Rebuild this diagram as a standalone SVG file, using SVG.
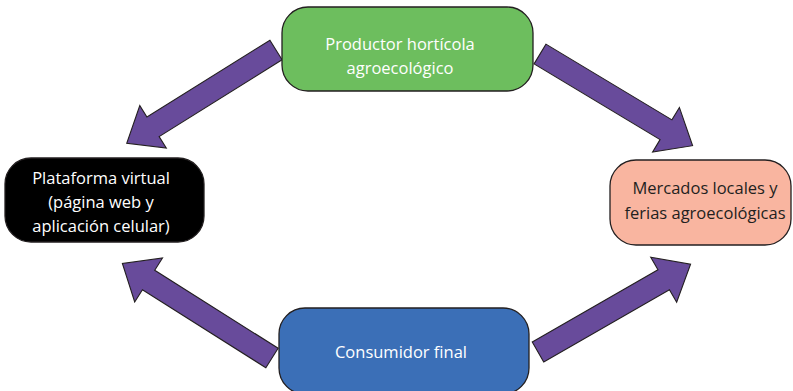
<svg xmlns="http://www.w3.org/2000/svg" width="793" height="391" viewBox="0 0 793 391">
<style>
.box{stroke:#231F20;stroke-width:1.3}
.arr{fill:#684B9B;stroke:#231F20;stroke-width:1.1;stroke-linejoin:miter}
.t{font-family:"Open Sans","Liberation Sans",sans-serif;font-size:16.5px;text-anchor:middle}
.w{fill:#ffffff}
.d{fill:#231F20}
</style>
<rect width="793" height="391" fill="#ffffff"/>
<g id="connectors">
<polygon class="arr" transform="translate(276,50) rotate(148)" points="0,-11.5 145,-11.5 145,-25 176,0 145,25 145,11.5 0,11.5"/>
<polygon class="arr" transform="translate(540,54) rotate(31)" points="0,-11.5 147,-11.5 147,-26 178,0 147,26 147,11.5 0,11.5"/>
<polygon class="arr" transform="translate(272,358) rotate(212.3)" points="0,-11.5 146,-11.5 146,-26 177,0 146,26 146,11.5 0,11.5"/>
<polygon class="arr" transform="translate(538,352) rotate(-29.9)" points="0,-11.5 145,-11.5 145,-26 176,0 145,26 145,11.5 0,11.5"/>
</g>
<g id="productor">
<rect class="box" x="282" y="7" width="251" height="84" rx="26" fill="#6DBE5E"/>
<text class="t w" x="400" y="50">Productor hortícola</text>
<text class="t w" x="400" y="74">agroecológico</text>
</g>
<g id="plataforma">
<rect class="box" x="5" y="158" width="199" height="84" rx="26" fill="#000000"/>
<text class="t w" x="101" y="184">Plataforma virtual</text>
<text class="t w" x="101" y="208">(página web y</text>
<text class="t w" x="101" y="232">aplicación celular)</text>
</g>
<g id="mercados">
<rect class="box" x="610" y="160" width="181" height="85" rx="26" fill="#F9B5A0"/>
<text class="t d" x="705" y="194">Mercados locales y</text>
<text class="t d" x="705" y="219">ferias agroecológicas</text>
</g>
<g id="consumidor">
<rect class="box" x="279" y="308" width="250" height="86" rx="26" fill="#3B6FB7"/>
<text class="t w" x="401" y="358">Consumidor final</text>
</g>
</svg>
